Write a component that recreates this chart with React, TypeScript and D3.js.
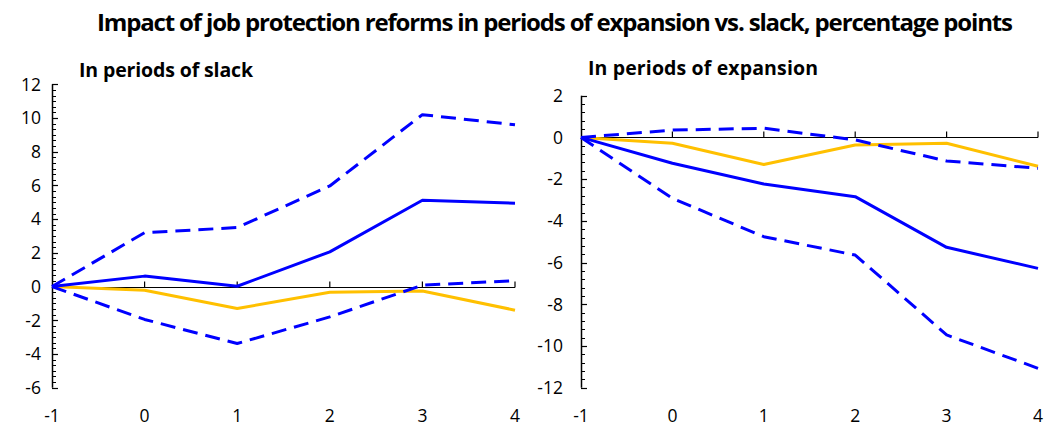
import React, { useEffect, useRef } from 'react';
import * as d3 from 'd3';

const width = 1045;
const height = 429;

const periods = [-1, 0, 1, 2, 3, 4];

// In periods of slack
const slackEstimate = [0, 0.62, 0.02, 2.06, 5.12, 4.95];
const slackUpper = [0, 3.2, 3.5, 5.97, 10.2, 9.6];
const slackLower = [0, -1.95, -3.38, -1.8, 0.08, 0.35];
const slackOther = [0, -0.22, -1.3, -0.34, -0.26, -1.4];

// In periods of expansion
const expEstimate = [0, -1.24, -2.23, -2.84, -5.27, -6.28];
const expUpper = [0, 0.35, 0.44, -0.12, -1.13, -1.48];
const expLower = [0, -2.92, -4.76, -5.64, -9.47, -11.07];
const expOther = [0, -0.28, -1.3, -0.36, -0.28, -1.38];

const slackTicks = [12, 10, 8, 6, 4, 2, 0, -2, -4, -6];
const expTicks = [2, 0, -2, -4, -6, -8, -10, -12];

const panels = [
  {
    title: 'In periods of slack', titleX: 79, titleY: 77, titleW: 174,
    x0: 52, x1: 515, yTop: 84.3, yBottom: 387.7, domain: [-6, 12],
    ticks: slackTicks, minor: 2 / 6, labelX: 41,
    estimate: slackEstimate, upper: slackUpper, lower: slackLower, other: slackOther,
  },
  {
    title: 'In periods of expansion', titleX: 588, titleY: 75, titleW: 230,
    x0: 581, x1: 1038, yTop: 95.7, yBottom: 387.7, domain: [-12, 2],
    ticks: expTicks, minor: 0.4, labelX: 563,
    estimate: expEstimate, upper: expUpper, lower: expLower, other: expOther,
  },
];

const BLUE = '#0000ff';
const ORANGE = '#ffc000';
const FONT = 'Open Sans, Noto Sans, sans-serif';
const NARROW = 'Liberation Sans Narrow, Open Sans, sans-serif';

const App = () => {
  const ref = useRef(null);

  useEffect(() => {
    const svg = d3.select(ref.current);
    svg.selectAll('*').remove();

    svg.append('text')
      .attr('x', 97)
      .attr('y', 31)
      .attr('font-family', NARROW)
      .attr('font-weight', 'bold')
      .attr('font-size', 24)
      .attr('textLength', 916)
      .attr('lengthAdjust', 'spacing')
      .text('Impact of job protection reforms in periods of expansion vs. slack, percentage points');

    panels.forEach(p => {
      const x = d3.scaleLinear().domain([-1, 4]).range([p.x0, p.x1]);
      const y = d3.scaleLinear().domain(p.domain).range([p.yBottom, p.yTop]);
      const g = svg.append('g');

      g.append('text')
        .attr('x', p.titleX)
        .attr('y', p.titleY)
        .attr('font-family', NARROW)
        .attr('font-weight', 'bold')
        .attr('font-size', 19.5)
        .attr('textLength', p.titleW)
        .attr('lengthAdjust', 'spacing')
        .text(p.title);

      // minor ticks on the y axis
      const minorTicks = d3.range(p.domain[0], p.domain[1] + 1e-6, p.minor);
      g.append('g')
        .selectAll('line')
        .data(minorTicks)
        .join('line')
        .attr('x1', p.x0)
        .attr('x2', p.x0 + 4)
        .attr('y1', d => Math.round(y(d)) + 0.5)
        .attr('y2', d => Math.round(y(d)) + 0.5)
        .attr('stroke', '#000')
        .attr('stroke-width', 1);

      g.append('g')
        .selectAll('line')
        .data(p.ticks)
        .join('line')
        .attr('x1', p.x0)
        .attr('x2', p.x0 + 6)
        .attr('y1', d => Math.round(y(d)) + 0.5)
        .attr('y2', d => Math.round(y(d)) + 0.5)
        .attr('stroke', '#000')
        .attr('stroke-width', 1.2);

      g.append('line')
        .attr('x1', p.x0 + 0.5).attr('x2', p.x0 + 0.5)
        .attr('y1', y(p.domain[1])).attr('y2', y(p.domain[0]))
        .attr('stroke', '#000').attr('stroke-width', 1.5);

      g.append('g')
        .selectAll('text')
        .data(p.ticks)
        .join('text')
        .attr('x', p.labelX)
        .attr('y', d => y(d))
        .attr('dy', '0.36em')
        .attr('text-anchor', 'end')
        .attr('font-family', FONT)
        .attr('font-size', 17.5)
        .attr('fill', '#000')
        .text(d => d);

      // x axis at zero
      const y0 = Math.round(y(0)) + 0.5;
      g.append('line')
        .attr('x1', p.x0).attr('x2', p.x1)
        .attr('y1', y0).attr('y2', y0)
        .attr('stroke', '#000').attr('stroke-width', 1.2);
      g.append('g')
        .selectAll('line')
        .data(periods.slice(1))
        .join('line')
        .attr('x1', d => x(d)).attr('x2', d => x(d))
        .attr('y1', y0).attr('y2', y0 - 6)
        .attr('stroke', '#000').attr('stroke-width', 1.2);

      g.append('g')
        .selectAll('text')
        .data(periods)
        .join('text')
        .attr('x', d => x(d))
        .attr('y', 422)
        .attr('text-anchor', 'middle')
        .attr('font-family', FONT)
        .attr('font-size', 17.5)
        .text(d => d);

      const line = d3.line().x((d, i) => x(periods[i])).y(d => y(d));
      const series = [
        { values: p.other, color: ORANGE, dash: null },
        { values: p.upper, color: BLUE, dash: '15,8' },
        { values: p.lower, color: BLUE, dash: '15,8' },
        { values: p.estimate, color: BLUE, dash: null },
      ];
      series.forEach(s => {
        g.append('path')
          .datum(s.values)
          .attr('d', line)
          .attr('fill', 'none')
          .attr('stroke', s.color)
          .attr('stroke-width', 3)
          .attr('stroke-dasharray', s.dash)
          .attr('stroke-linejoin', 'round');
      });
    });
  }, []);

  return (
    <svg ref={ref} width={width} height={height} style={{ position: 'absolute', left: 0, top: 0, background: '#fff' }}></svg>
  );
};

export default App;
